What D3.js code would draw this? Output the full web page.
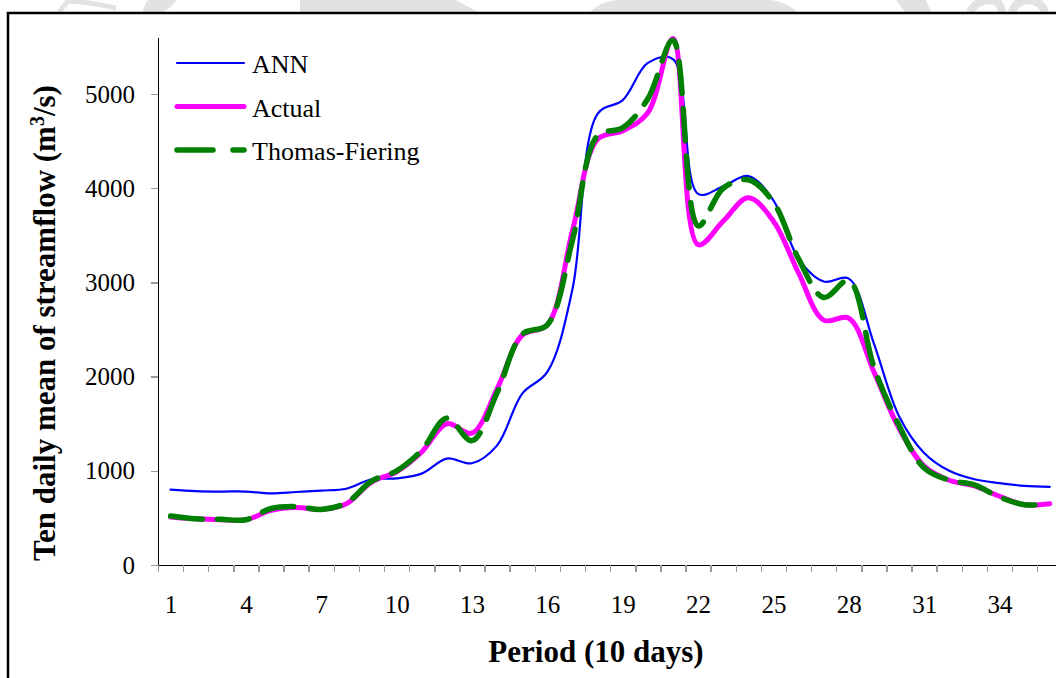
<!DOCTYPE html>
<html>
<head>
<meta charset="utf-8">
<script src="https://cdnjs.cloudflare.com/ajax/libs/d3/7.8.5/d3.min.js"></script>
<style>
  body { margin: 0; background: #fff; }
  svg { display: block; font-family: "Liberation Serif", "Times New Roman", serif; }
  .axis path, .axis line { shape-rendering: crispEdges; }
</style>
</head>
<body>
<script>
// ten-daily periods 1..36
const periods = d3.range(1, 37);
const periodLabels = [1, 4, 7, 10, 13, 16, 19, 22, 25, 28, 31, 34];
const flowTicks = [0, 1000, 2000, 3000, 4000, 5000];

const ann = [800, 785, 780, 780, 760, 775, 790, 810, 910, 920, 970, 1130,
             1080, 1270, 1820, 2050, 2930, 4790, 4935, 5330, 5370, 3940, 4020, 4130,
             3870, 3250, 3010, 3040, 2350, 1580, 1190, 1000, 910, 870, 840, 830];
const actual = [510, 490, 480, 480, 580, 610, 590, 650, 880, 990, 1200, 1500,
                1400, 1870, 2440, 2550, 3550, 4520, 4610, 4800, 5590, 3400, 3650, 3900,
                3650, 3100, 2600, 2620, 2050, 1450, 1050, 900, 840, 730, 640, 650];
const thomas = [520, 490, 485, 480, 600, 620, 590, 660, 890, 1000, 1220, 1560,
                1320, 1830, 2450, 2550, 3450, 4560, 4640, 4950, 5570, 3600, 4000, 4090,
                3850, 3250, 2840, 3020, 2100, 1480, 1030, 900, 850, 720, 640, 650];

const series = [
  { name: "ANN", values: ann, color: "#0000ff", width: 2.2, dash: null },
  { name: "Actual", values: actual, color: "#ff00ff", width: 5, dash: null },
  { name: "Thomas-Fiering", values: thomas, color: "#008000", width: 5.5, dash: "32,15" }
];

const W = 1056, H = 678;
const plot = { left: 158, top: 37.5, bottom: 565, step: 25.12 };

const svg = d3.select("body").append("svg").attr("width", W).attr("height", H);

// faint shapes along the top edge, outside the frame
const haze = svg.append("g").attr("fill", "#e2e2e2").attr("stroke", "none");
[
  "M300,0 L456,0 L478,12 L300,12 Z",
  "M590,12 Q600,2 616,0 L772,0 Q788,3 797,12 Z",
  "M148,0 L176,0 Q172,8 162,12 L143,12 Q144,5 148,0 Z",
  "M896,0 L926,0 L931,12 L905,12 Z"
].forEach(d => haze.append("path").attr("d", d));
haze.append("path")
  .attr("d", "M59,12 L68,1 Q90,2 116,8")
  .attr("fill", "none").attr("stroke", "#e2e2e2").attr("stroke-width", 5);
haze.append("path")
  .attr("d", "M970,12 Q976,0 992,0 Q1000,1 1002,12 M1012,12 Q1016,0 1030,0 Q1042,2 1045,12")
  .attr("fill", "none").attr("stroke", "#e2e2e2").attr("stroke-width", 8);

// chart frame
svg.append("rect")
  .attr("x", 8).attr("y", 13)
  .attr("width", W + 20).attr("height", H + 20)
  .attr("fill", "#fff").attr("stroke", "#000").attr("stroke-width", 2.5);

const x = d3.scaleLinear()
  .domain([0.5, 36.5])
  .range([plot.left, plot.left + 36 * plot.step]);

const y = d3.scaleLinear()
  .domain([0, 5600])
  .range([plot.bottom, plot.top]);

// y axis
const yAxis = svg.append("g")
  .attr("class", "axis")
  .attr("transform", `translate(${plot.left},0)`)
  .call(d3.axisLeft(y).tickValues(flowTicks).tickFormat(d3.format("d"))
    .tickSize(7).tickPadding(16).tickSizeOuter(0))
  .attr("font-family", null).attr("font-size", 25);
yAxis.select(".domain").attr("stroke", "#000").attr("stroke-width", 1.5);
yAxis.selectAll(".tick line").attr("stroke", "#999").attr("stroke-width", 1.5);
yAxis.selectAll(".tick text").attr("fill", "#000");

// x axis: tick marks between periods
const xMarks = svg.append("g")
  .attr("class", "axis")
  .attr("transform", `translate(0,${plot.bottom})`)
  .call(d3.axisBottom(x).tickValues(d3.range(0.5, 37, 1)).tickSize(7).tickFormat("").tickSizeOuter(0));
xMarks.select(".domain").attr("stroke", "#000").attr("stroke-width", 1.5);
xMarks.selectAll(".tick line").attr("stroke", "#999").attr("stroke-width", 1.5);

// x axis: period labels
const xLabels = svg.append("g")
  .attr("transform", `translate(0,${plot.bottom})`)
  .call(d3.axisBottom(x).tickValues(periodLabels).tickSize(0).tickPadding(30))
  .attr("font-family", null).attr("font-size", 25);
xLabels.select(".domain").remove();
xLabels.selectAll(".tick text").attr("fill", "#000");

// series lines, smoothed
const line = d3.line()
  .x((d, i) => x(periods[i]))
  .y(d => y(d))
  .curve(d3.curveCatmullRom.alpha(0.5));

series.forEach(s => {
  svg.append("path")
    .datum(s.values)
    .attr("d", line)
    .attr("fill", "none")
    .attr("stroke", s.color)
    .attr("stroke-width", s.width)
    .attr("stroke-linecap", "round")
    .attr("stroke-linejoin", "round")
    .attr("stroke-dasharray", s.dash);
});

// legend
const legend = svg.append("g");
series.forEach((s, i) => {
  const ly = 63 + i * 43.5;
  legend.append("line")
    .attr("x1", 177).attr("x2", 244)
    .attr("y1", ly).attr("y2", ly)
    .attr("stroke", s.color)
    .attr("stroke-width", s.width)
    .attr("stroke-linecap", "round")
    .attr("stroke-dasharray", s.dash ? "36,20" : null);
  legend.append("text")
    .attr("x", 252).attr("y", ly + 10)
    .attr("font-size", 26)
    .text(s.name);
});

// axis titles
svg.append("text")
  .attr("x", 596).attr("y", 662)
  .attr("text-anchor", "middle")
  .attr("font-size", 31).attr("font-weight", "bold")
  .text("Period (10 days)");

const yTitle = svg.append("text")
  .attr("transform", "translate(55,323) rotate(-90)")
  .attr("text-anchor", "middle")
  .attr("font-size", 31).attr("font-weight", "bold");
yTitle.append("tspan").text("Ten daily mean of streamflow (m");
yTitle.append("tspan").attr("dy", -11).attr("font-size", 20).text("3");
yTitle.append("tspan").attr("dy", 11).text("/s)");
</script>
</body>
</html>
